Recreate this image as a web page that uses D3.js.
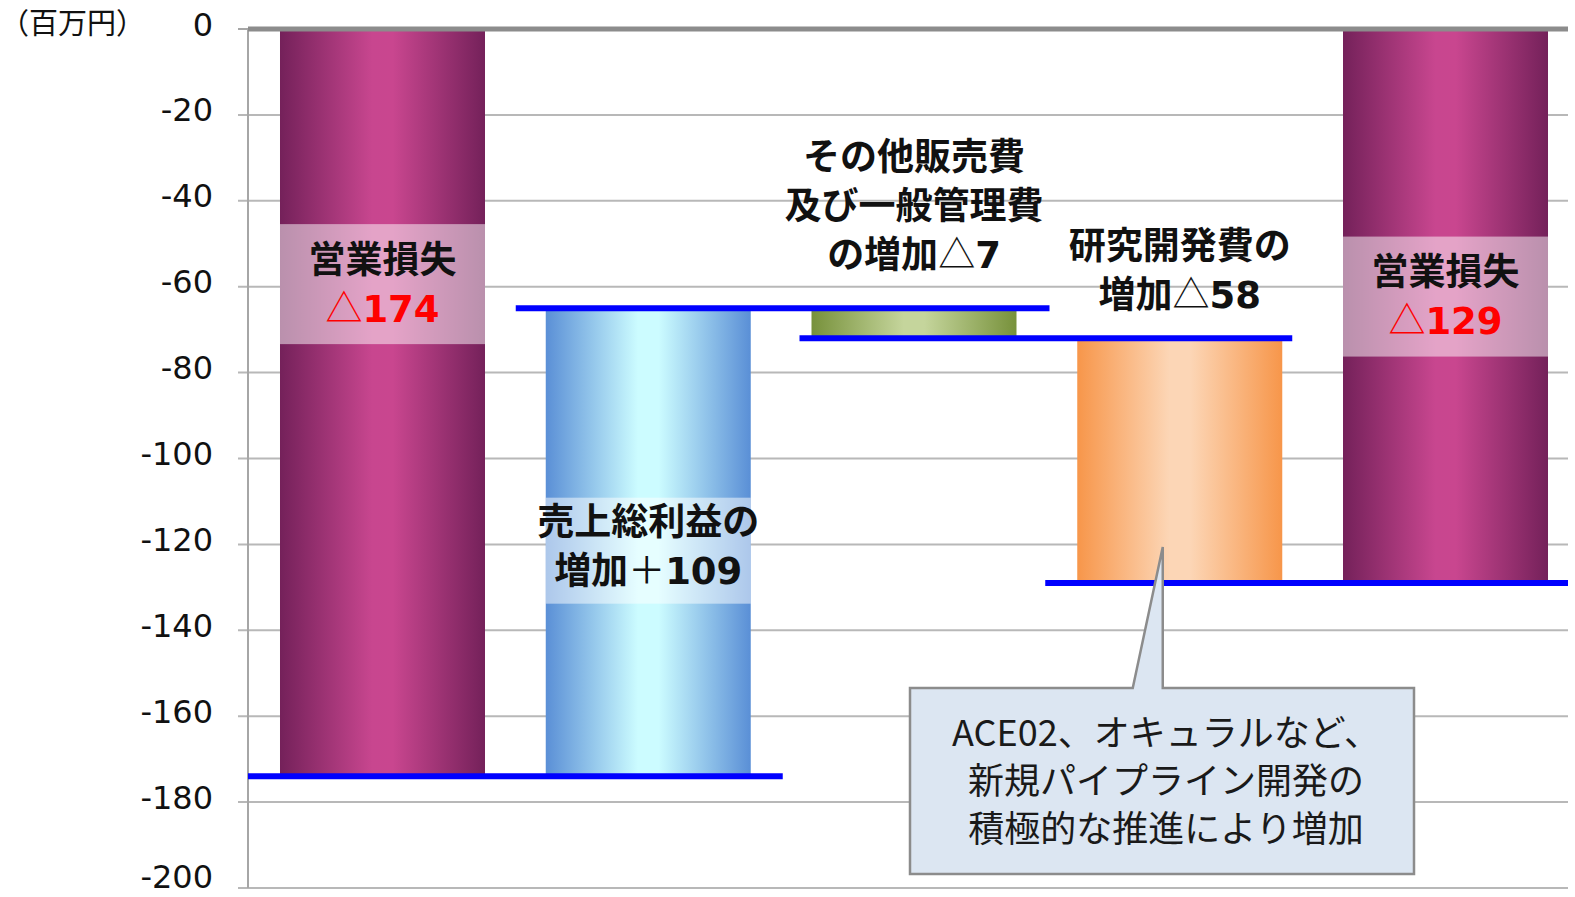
<!DOCTYPE html>
<html>
<head>
<meta charset="utf-8">
<script src="https://cdn.jsdelivr.net/npm/d3@7"></script>
<style>
  body { margin: 0; background: #fff; }
  svg { display: block; }
</style>
</head>
<body>
<svg id="chart" width="1575" height="897"></svg>
<script>
// data
const categories = ["営業損失", "売上総利益の増加", "その他販売費及び一般管理費の増加", "研究開発費の増加", "営業損失"];
const barStart = [0, -174, -65, -72, 0];
const barEnd = [-174, -65, -72, -129, -129];
const barColor = ["purple", "blue", "green", "orange", "purple"];
const yTicks = [0, -20, -40, -60, -80, -100, -120, -140, -160, -180, -200];
// connector lines: value, from bar, to bar
const connectValue = [-174, -65, -72, -129];
const connectFrom = [0, 1, 2, 3];
const connectTo = [1, 2, 3, 4];
// label text lines and the value they sit around
const labelLines = [
  ["営業損失", "△174"],
  ["売上総利益の", "増加＋109"],
  ["その他販売費", "及び一般管理費", "の増加△7"],
  ["研究開発費の", "増加△58"],
  ["営業損失", "△129"]
];
const labelCenter = [-59.4, -120.3, -41.2, -56.2, -62.3];
const labelBox = [true, true, false, false, true];
const labelRed = [true, false, false, false, true];
const noteLines = ["ACE02、オキュラルなど、", "新規パイプライン開発の", "積極的な推進により増加"];
const noteTarget = -120.6;

// styles
const gradients = {
  purple: ["#74215a", "#c8468f", "#c9468f", "#74215a"],
  blue: ["#5a8fd6", "#ccfcff", "#ccfcff", "#5a8fd6"],
  green: ["#77913b", "#c5d59c", "#c5d59c", "#77913b"],
  orange: ["#f7964a", "#fcd6b6", "#fcd6b6", "#f7964a"]
};
const connectPadL = [32, 30, 12, 32];
const connectPadR = [32, 33, 10, 32];
const boxPad = [22, 8, 0, 0, 22];

const svg = d3.select("#chart");
const plotL = 248, plotR = 1568, plotT = 29, plotB = 888;

const y = d3.scaleLinear().domain([0, -200]).range([plotT, plotB]);
const x = d3.scaleBand().domain(d3.range(5)).range([plotL, 1580]).paddingInner(0.2286).paddingOuter(0.1204);

const defs = svg.append("defs");
Object.entries(gradients).forEach(([k, c]) => {
  const g = defs.append("linearGradient").attr("id", "g-" + k).attr("x1", 0).attr("x2", 1).attr("y1", 0).attr("y2", 0);
  [0, 0.45, 0.55, 1].forEach((o, i) => g.append("stop").attr("offset", o).attr("stop-color", c[i]));
});

// gridlines
svg.append("g").selectAll("line").data(yTicks.slice(1)).enter().append("line")
  .attr("x1", plotL - 10).attr("x2", plotR)
  .attr("y1", d => y(d)).attr("y2", d => y(d))
  .attr("stroke", "#b8b8b8").attr("stroke-width", 2);

// axis
svg.append("line").attr("x1", plotL).attr("x2", plotL).attr("y1", plotT).attr("y2", plotB)
  .attr("stroke", "#a6a6a6").attr("stroke-width", 2);
svg.append("line").attr("x1", plotL - 10).attr("x2", plotL).attr("y1", plotT).attr("y2", plotT)
  .attr("stroke", "#a6a6a6").attr("stroke-width", 2);
svg.append("g").selectAll("text").data(yTicks).enter().append("text")
  .attr("x", 213).attr("y", d => Math.min(y(d) - 5, 876))
  .attr("dy", "0.36em")
  .attr("text-anchor", "end")
  .attr("font-family", "DejaVu Sans, sans-serif")
  .attr("font-size", 32)
  .attr("fill", "#111")
  .text(d => d);
svg.append("text").attr("x", 0).attr("y", 24).attr("dy", "0.36em")
  .attr("font-family", "Noto Sans CJK JP, sans-serif").attr("font-size", 29).attr("fill", "#111")
  .text("（百万円）");

// bars
svg.append("g").selectAll("rect").data(categories).enter().append("rect")
  .attr("x", (d, i) => x(i))
  .attr("width", x.bandwidth())
  .attr("y", (d, i) => y(Math.max(barStart[i], barEnd[i])))
  .attr("height", (d, i) => Math.abs(y(barStart[i]) - y(barEnd[i])))
  .attr("fill", (d, i) => "url(#g-" + barColor[i] + ")");

// zero line
svg.append("line").attr("x1", plotL).attr("x2", plotR).attr("y1", plotT).attr("y2", plotT)
  .attr("stroke", "#8c8c8c").attr("stroke-width", 5);

// connectors
svg.append("g").selectAll("line").data(connectValue).enter().append("line")
  .attr("x1", (d, i) => Math.max(plotL, x(connectFrom[i]) - connectPadL[i]))
  .attr("x2", (d, i) => Math.min(plotR, x(connectTo[i]) + x.bandwidth() + connectPadR[i]))
  .attr("y1", d => y(d)).attr("y2", d => y(d))
  .attr("stroke", "#0000ff").attr("stroke-width", 6);

// labels
const lineH = 49;
labelLines.forEach((lines, i) => {
  const cx = x(i) + x.bandwidth() / 2;
  const cy = y(labelCenter[i]);
  const g = svg.append("g");
  if (labelBox[i]) {
    const h = lines.length * lineH + boxPad[i];
    g.append("rect").attr("x", x(i)).attr("width", x.bandwidth())
      .attr("y", cy - h / 2 + (i === 1 ? 5 : 0)).attr("height", h)
      .attr("fill", "#fff").attr("fill-opacity", 0.5);
  }
  g.selectAll("text").data(lines).enter().append("text")
    .attr("x", cx)
    .attr("y", (d, j) => cy + (j - (lines.length - 1) / 2) * lineH)
    .attr("dy", "0.36em")
    .attr("text-anchor", "middle")
    .attr("font-family", "DejaVu Sans, Noto Sans CJK JP, sans-serif")
    .attr("font-weight", "bold")
    .attr("font-size", 37)
    .attr("fill", (d, j) => (labelRed[i] && j === 1 ? "#ff0000" : "#111"))
    .each(function (d) {
      const t = d3.select(this);
      const m = d.match(/^(.*?)(△|＋)(.*)$/);
      if (m) {
        if (m[1]) t.append("tspan").text(m[1]);
        t.append("tspan").attr("font-weight", "normal").attr("font-family", "Noto Sans CJK JP, sans-serif").text(m[2]);
        t.append("tspan").text(m[3]);
      } else t.text(d);
    });
});

// callout
const tipX = x(3) + x.bandwidth() / 2 - 17;
const tipY = y(noteTarget);
const bx0 = 910, bx1 = 1414, by0 = 688, by1 = 874;
svg.append("path")
  .attr("d", `M${bx0},${by0} L${tipX - 30},${by0} L${tipX},${tipY} L${tipX},${by0} L${bx1},${by0} L${bx1},${by1} L${bx0},${by1} Z`)
  .attr("fill", "#dce6f2").attr("stroke", "#8c8c8c").attr("stroke-width", 2.5);
svg.append("g").selectAll("text").data(noteLines).enter().append("text")
  .attr("x", (bx0 + bx1) / 2 + 4)
  .attr("y", (d, i) => 733 + i * 48)
  .attr("dy", "0.36em")
  .attr("text-anchor", "middle")
  .attr("font-family", "Noto Sans CJK JP, sans-serif")
  .attr("font-size", 36)
  .attr("fill", "#1a1a1a")
  .text(d => d);
</script>
</body>
</html>
